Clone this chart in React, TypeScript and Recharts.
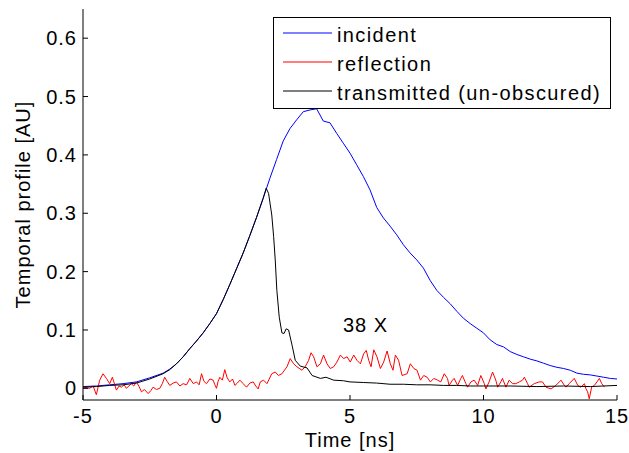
import React from "react";
import { LineChart, Line, XAxis, YAxis } from "recharts";

const xTicks = [-5, 0, 5, 10, 15];
const yTicks = [0, 0.1, 0.2, 0.3, 0.4, 0.5, 0.6];

const incidentT = [-5, -4.5, -4, -3.5, -3, -2.5, -2, -1.75, -1.5, -1.25, -1, -0.75, -0.5, -0.25, 0, 0.25, 0.5, 0.75, 1, 1.25, 1.5, 1.75, 2, 2.25, 2.5, 2.75, 3, 3.25, 3.5, 3.75, 4, 4.25, 4.5, 4.75, 5, 5.25, 5.5, 5.75, 6, 6.25, 6.5, 6.75, 7, 7.25, 7.5, 7.75, 8, 8.25, 8.5, 8.75, 9, 9.25, 9.5, 9.75, 10, 10.25, 10.5, 10.75, 11, 11.25, 11.5, 11.75, 12, 12.25, 12.5, 12.75, 13, 13.25, 13.5, 13.75, 14, 14.25, 14.5, 14.75, 15];
const incidentV = [0.003, 0.004, 0.006, 0.008, 0.011, 0.018, 0.026, 0.033, 0.042, 0.054, 0.068, 0.081, 0.095, 0.111, 0.128, 0.152, 0.178, 0.205, 0.232, 0.262, 0.293, 0.326, 0.36, 0.392, 0.424, 0.445, 0.46, 0.474, 0.477, 0.479, 0.458, 0.455, 0.437, 0.42, 0.403, 0.383, 0.363, 0.34, 0.31, 0.292, 0.278, 0.263, 0.246, 0.232, 0.22, 0.206, 0.185, 0.168, 0.156, 0.145, 0.132, 0.12, 0.111, 0.103, 0.095, 0.083, 0.075, 0.071, 0.063, 0.058, 0.054, 0.05, 0.047, 0.043, 0.039, 0.036, 0.034, 0.031, 0.026, 0.024, 0.023, 0.021, 0.019, 0.017, 0.016];

const reflectionT = [-5, -4.88, -4.75, -4.62, -4.5, -4.375, -4.25, -4.125, -4, -3.9, -3.75, -3.65, -3.56, -3.46, -3.375, -3.19, -3.1, -3, -2.9, -2.81, -2.7, -2.56, -2.46, -2.375, -2.25, -2.125, -2.03, -1.94, -1.85, -1.75, -1.62, -1.5, -1.37, -1.25, -1.12, -1, -0.87, -0.75, -0.65, -0.56, -0.47, -0.375, -0.25, -0.125, -0.06, 0, 0.06, 0.125, 0.22, 0.31, 0.4, 0.5, 0.6, 0.69, 0.78, 0.875, 1, 1.125, 1.25, 1.375, 1.47, 1.56, 1.64, 1.76, 1.89, 2.07, 2.2, 2.32, 2.45, 2.64, 2.76, 2.89, 3.01, 3.2, 3.32, 3.45, 3.54, 3.64, 3.76, 3.89, 4.01, 4.14, 4.26, 4.39, 4.51, 4.64, 4.76, 4.89, 5.01, 5.14, 5.26, 5.39, 5.51, 5.61, 5.7, 5.79, 5.89, 6.01, 6.14, 6.26, 6.39, 6.51, 6.61, 6.7, 6.82, 6.95, 7.14, 7.26, 7.39, 7.51, 7.64, 7.76, 7.89, 8.01, 8.14, 8.28, 8.4, 8.53, 8.65, 8.71, 8.84, 8.9, 9.03, 9.15, 9.21, 9.34, 9.4, 9.53, 9.65, 9.78, 9.9, 10.03, 10.09, 10.21, 10.34, 10.46, 10.53, 10.65, 10.71, 10.84, 10.96, 11.09, 11.21, 11.34, 11.46, 11.53, 11.65, 11.71, 11.9, 12.09, 12.21, 12.34, 12.53, 12.71, 12.84, 12.9, 13.03, 13.09, 13.21, 13.4, 13.53, 13.65, 13.78, 13.84, 13.9, 13.96, 14.05, 14.15, 14.25, 14.34, 14.43, 14.53];
const reflectionV = [0.003, 0.001, 0.0, 0.004, -0.011, 0.014, 0.025, 0.017, 0.008, 0.019, -0.003, 0.004, 0.002, 0.006, 0.0, 0.008, 0.004, 0.011, 0.003, -0.006, -0.002, -0.009, -0.004, 0.002, -0.002, 0.0, 0.008, 0.019, 0.012, 0.005, 0.009, 0.011, 0.004, 0.008, 0.006, 0.017, 0.008, 0.011, 0.006, 0.025, 0.012, 0.008, 0.016, 0.014, 0.006, 0.0, 0.012, 0.019, 0.014, 0.032, 0.018, 0.011, 0.016, 0.005, 0.009, 0.014, 0.008, 0.002, 0.009, 0.011, 0.004, -0.001, 0.011, 0.014, 0.008, 0.025, 0.028, 0.022, 0.025, 0.037, 0.051, 0.042, 0.037, 0.031, 0.037, 0.048, 0.061, 0.054, 0.037, 0.042, 0.057, 0.042, 0.034, 0.037, 0.045, 0.057, 0.051, 0.054, 0.045, 0.057, 0.048, 0.042, 0.059, 0.065, 0.048, 0.037, 0.066, 0.054, 0.034, 0.045, 0.064, 0.042, 0.031, 0.057, 0.048, 0.022, 0.025, 0.042, 0.034, 0.031, 0.014, 0.022, 0.019, 0.011, 0.017, 0.014, 0.011, 0.025, 0.017, 0.005, 0.014, 0.017, 0.005, 0.017, 0.022, 0.008, 0.002, 0.011, 0.014, 0.005, 0.022, 0.008, -0.001, 0.011, 0.028, 0.014, 0.002, 0.011, 0.017, 0.002, 0.014, 0.008, 0.008, 0.011, 0.014, 0.019, 0.008, 0.002, 0.008, 0.011, 0.011, 0.002, -0.001, 0.005, 0.011, 0.014, 0.005, 0.002, 0.008, 0.017, 0.005, 0.002, 0.008, -0.001, -0.006, -0.018, 0.002, 0.005, 0.011, 0.017, 0.008, 0.002];

const transmittedT = [-5, -4.5, -4, -3.5, -3, -2.5, -2, -1.75, -1.5, -1.25, -1, -0.75, -0.5, -0.25, 0, 0.25, 0.5, 0.75, 1, 1.25, 1.5, 1.75, 1.86, 1.95, 2.07, 2.14, 2.2, 2.26, 2.35, 2.45, 2.53, 2.61, 2.7, 2.83, 2.95, 3.14, 3.39, 3.58, 3.89, 4.1, 4.39, 4.75, 5, 5.5, 6, 6.5, 7, 7.5, 8, 8.5, 9, 9.5, 10, 11, 12, 13, 14, 14.5, 15];
const transmittedV = [0.002, 0.003, 0.005, 0.006, 0.009, 0.016, 0.025, 0.032, 0.042, 0.054, 0.068, 0.081, 0.095, 0.111, 0.128, 0.152, 0.178, 0.205, 0.232, 0.262, 0.293, 0.326, 0.343, 0.334, 0.297, 0.26, 0.22, 0.168, 0.122, 0.095, 0.094, 0.102, 0.1, 0.074, 0.048, 0.038, 0.035, 0.022, 0.017, 0.019, 0.014, 0.013, 0.011, 0.01, 0.009, 0.007, 0.007, 0.006, 0.006, 0.005, 0.005, 0.004, 0.004, 0.004, 0.003, 0.004, 0.003, 0.004, 0.005];

const seriesNames = ["incident", "reflection", "transmitted (un-obscured)"];
const seriesColors = ["#0000ff", "#ff0000", "#000000"];
const annotation = "38 X";

const toData = (ts: number[], vs: number[]) => ts.map((t, i) => ({ t, v: vs[i] }));
const incidentData = toData(incidentT, incidentV);
const reflectionData = toData(reflectionT, reflectionV);
const transmittedData = toData(transmittedT, transmittedV);

const FONT = "'Liberation Sans', Arial, Helvetica, sans-serif";
const tickStyle = { fill: "#000", fontSize: 20, fontFamily: FONT, letterSpacing: 1 };

const fmtY = (v: number) => (v === 0 ? "0" : v.toFixed(1));
const fmtX = (v: number) => String(v);

export default function App() {
  return (
    <div style={{ position: "absolute", left: 0, top: 0, width: 629, height: 453, background: "#fff", fontFamily: FONT }}>
      <LineChart width={629} height={453} margin={{ top: 9, right: 12, bottom: 0, left: 0 }}>
        <XAxis
          xAxisId="b"
          type="number"
          dataKey="t"
          domain={[-5, 15]}
          ticks={xTicks}
          tickFormatter={fmtX}
          allowDataOverflow
          height={53}
          tickSize={-5}
          tickMargin={14}
          tickLine={{ stroke: "#000" }}
          axisLine={{ stroke: "#000" }}
          tick={tickStyle}
          label={{ value: "Time [ns]", position: "insideBottom", offset: 6, fill: "#000", fontSize: 20, fontFamily: FONT, letterSpacing: 1 }}
        />
        <XAxis
          xAxisId="top"
          orientation="top"
          type="number"
          dataKey="t"
          domain={[-5, 15]}
          ticks={xTicks}
          allowDataOverflow
          height={0}
          tickSize={-5}
          tick={false}
          tickLine={{ stroke: "#000" }}
          axisLine={{ stroke: "#000" }}
        />
        <YAxis
          yAxisId="l"
          type="number"
          domain={[-0.02, 0.65]}
          ticks={yTicks}
          tickFormatter={fmtY}
          allowDataOverflow
          width={83}
          tickSize={-5}
          tickMargin={11}
          tickLine={{ stroke: "#000" }}
          axisLine={{ stroke: "#000" }}
          tick={tickStyle}
          label={{ value: "Temporal profile [AU]", angle: -90, position: "insideLeft", offset: 23, fill: "#000", fontSize: 20, fontFamily: FONT, letterSpacing: 1, style: { textAnchor: "middle" } }}
        />
        <YAxis
          yAxisId="r"
          orientation="right"
          type="number"
          domain={[-0.02, 0.65]}
          ticks={yTicks}
          allowDataOverflow
          width={0}
          tickSize={-5}
          tick={false}
          tickLine={{ stroke: "#000" }}
          axisLine={{ stroke: "#000" }}
        />
        <Line xAxisId="b" yAxisId="l" data={incidentData} dataKey="v" type="linear" stroke={seriesColors[0]} strokeWidth={1} dot={false} isAnimationActive={false} />
        <Line xAxisId="b" yAxisId="l" data={reflectionData} dataKey="v" type="linear" stroke={seriesColors[1]} strokeWidth={1} dot={false} isAnimationActive={false} />
        <Line xAxisId="b" yAxisId="l" data={transmittedData} dataKey="v" type="linear" stroke={seriesColors[2]} strokeWidth={1} dot={false} isAnimationActive={false} />
      </LineChart>
      <svg width={629} height={453} style={{ position: "absolute", left: 0, top: 0, pointerEvents: "none" }}>
        <rect x={273.5} y={17.5} width={337} height={91} fill="#fff" stroke="#000" strokeWidth={1} />
        {seriesNames.map((name, i) => (
          <g key={name}>
            <line x1={283} x2={332} y1={33 + i * 29} y2={33 + i * 29} stroke={seriesColors[i]} strokeWidth={1.2} />
            <text x={337} y={42 + i * 29} fontSize={20} fontFamily={FONT} letterSpacing={1.4} fill="#000">{name}</text>
          </g>
        ))}
        <text x={343} y={332} fontSize={20} fontFamily={FONT} letterSpacing={1} fill="#000">{annotation}</text>
      </svg>
    </div>
  );
}
